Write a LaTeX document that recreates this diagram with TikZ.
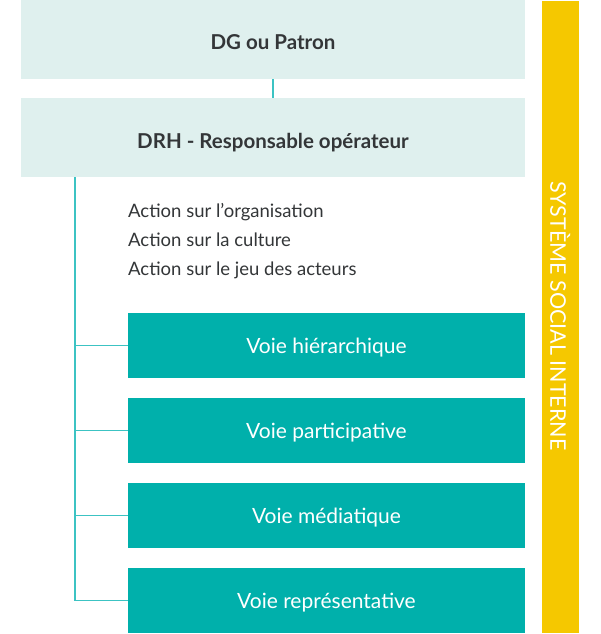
\documentclass[tikz,border=0pt]{standalone}
\usepackage{fontspec}
\setmainfont{Lato}
\begin{document}
\begin{tikzpicture}[x=1pt,y=-1pt,
  lightbox/.style={fill=lightteal,draw=none,minimum width=504pt,minimum height=79pt,inner sep=0pt,text height=21pt,text depth=0pt,text=darktext,font=\fontsize{20.5}{24}\selectfont\bfseries},
  voie/.style={fill=teal1,draw=none,minimum width=397pt,minimum height=65pt,inner sep=0pt,text height=15pt,text depth=0pt,text=white,font=\fontsize{21}{24}\selectfont},
  link/.style={draw=linecol,line width=1.2pt},
  actiontxt/.style={anchor=west,inner sep=0pt,text height=13.3pt,text depth=0pt,text=darktext,font=\fontsize{18.5}{22}\selectfont}]
\definecolor{lightteal}{HTML}{DFF0EE}
\definecolor{teal1}{HTML}{00B0AB}
\definecolor{linecol}{HTML}{3CC3C3}
\definecolor{darktext}{HTML}{333638}
\definecolor{yellowbar}{HTML}{F5C800}
\useasboundingbox (0,0) rectangle (600,634);
\fill[white] (0,0) rectangle (600,634);
\node[lightbox] (dg) at (273,39.5) {DG ou Patron};
\node[lightbox] (drh) at (273,137.5) {DRH - Responsable opérateur};
\draw[link] (dg.south) -- (drh.north);
\node[actiontxt] (a1) at (128,210.7) {Action sur l’organisation};
\node[actiontxt] (a2) at (128,239.7) {Action sur la culture};
\node[actiontxt] (a3) at (128,268.7) {Action sur le jeu des acteurs};
\node[voie] (v1) at (326.5,345.5) {Voie hiérarchique};
\node[voie] (v2) at (326.5,430.5) {Voie participative};
\node[voie] (v3) at (326.5,515.5) {Voie médiatique};
\node[voie] (v4) at (326.5,600.5) {Voie représentative};
\coordinate (top) at (75,177);
\draw[link] (top) -- (75,600.5) -- (v4.west);
\draw[link] (75,345.5) -- (v1.west);
\draw[link] (75,430.5) -- (v2.west);
\draw[link] (75,515.5) -- (v3.west);
\node[fill=yellowbar,minimum width=37pt,minimum height=632pt,inner sep=0pt] (bar) at (560,317) {};
\node[rotate=-90,inner sep=0pt,text height=15.4pt,text depth=0pt,text=white,font=\fontsize{21.5}{25}\selectfont] (sys) at (558,316) {SYSTÈME SOCIAL INTERNE};
\end{tikzpicture}
\end{document}
